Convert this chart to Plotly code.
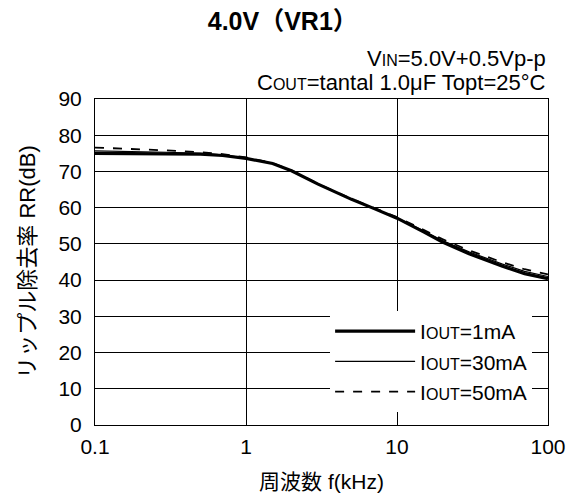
import plotly.graph_objects as go

freq_khz = [0.1, 0.2, 0.3, 0.5, 0.7, 1, 1.5, 2, 3, 5, 7, 10, 15, 20, 30, 50, 70, 100]
rr_1ma = [75.0, 75.0, 75.0, 74.8, 74.4, 73.6, 72.2, 70.2, 66.5, 62.3, 59.8, 57.1, 53.3, 50.5, 47.3, 43.8, 41.8, 40.4]
rr_30ma = [75.7, 75.5, 75.3, 75.0, 74.6, 73.7, 72.2, 70.2, 66.5, 62.3, 59.8, 57.2, 53.6, 50.9, 47.8, 44.4, 42.4, 41.0]
rr_50ma = [76.6, 76.2, 75.8, 75.3, 74.8, 73.9, 72.3, 70.3, 66.6, 62.4, 60.0, 57.4, 53.9, 51.3, 48.2, 44.9, 43.0, 41.6]
x_ticks = [0.1, 1, 10, 100]
x_tick_labels = ["0.1", "1", "10", "100"]
y_ticks = [0, 10, 20, 30, 40, 50, 60, 70, 80, 90]

FONT = "Liberation Sans, Arial, Noto Sans CJK JP, sans-serif"
SMALL = "<span style='font-size:16px'>%s</span>"

fig = go.Figure()
fig.add_trace(go.Scatter(x=freq_khz, y=rr_1ma, mode="lines", name="I" + SMALL % "OUT" + "=1mA",
                         line=dict(color="black", width=3.2)))
fig.add_trace(go.Scatter(x=freq_khz, y=rr_30ma, mode="lines", name="I" + SMALL % "OUT" + "=30mA",
                         line=dict(color="black", width=1.2)))
fig.add_trace(go.Scatter(x=freq_khz, y=rr_50ma, mode="lines", name="I" + SMALL % "OUT" + "=50mA",
                         line=dict(color="black", width=1.8, dash="dash")))

fig.update_layout(
    width=569, height=499,
    margin=dict(l=95, r=21, t=99, b=74),
    paper_bgcolor="white", plot_bgcolor="white",
    font=dict(family=FONT, size=21, color="black"),
    title=dict(text="<b>4.0V（VR1）</b>", x=0.497, xref="container", xanchor="center",
               y=0.958, yref="container", yanchor="middle",
               font=dict(size=25, family=FONT)),
    showlegend=True,
    legend=dict(x=0.519, y=0.350, xanchor="left", yanchor="top", bgcolor="white",
                borderwidth=0, font=dict(size=21), itemwidth=80, tracegroupgap=0),
    xaxis=dict(type="log", range=[-1, 2], tickvals=x_ticks, ticktext=x_tick_labels,
               showgrid=True, gridcolor="black", gridwidth=1, showline=True, linecolor="black",
               linewidth=1, mirror=True, ticks="", zeroline=False, ticklabelstandoff=3,
               automargin=False, ticklabeloverflow="allow",
               title=dict(text="周波数 f(kHz)", font=dict(size=21), standoff=17)),
    yaxis=dict(range=[0, 90], tickvals=y_ticks, showgrid=True, gridcolor="black", gridwidth=1,
               showline=True, linecolor="black", linewidth=1, mirror=True, ticks="", zeroline=False,
               ticklabelstandoff=8, automargin=False,
               title=dict(text="リップル除去率 RR(dB)", font=dict(size=22), standoff=16)),
    annotations=[
        dict(text="V" + SMALL % "IN" + "=5.0V+0.5Vp-p", xref="paper", yref="paper", x=1.0, y=1.0,
             yshift=41, xanchor="right", yanchor="middle", showarrow=False, font=dict(size=22)),
        dict(text="C" + SMALL % "OUT" + "=tantal 1.0μF Topt=25°C", xref="paper", yref="paper", x=1.0, y=1.0,
             yshift=17, xanchor="right", yanchor="middle", showarrow=False, font=dict(size=22)),
    ],
)

fig.write_html("out.html", config={"displayModeBar": False},
               post_script="document.body.style.margin='0';")
